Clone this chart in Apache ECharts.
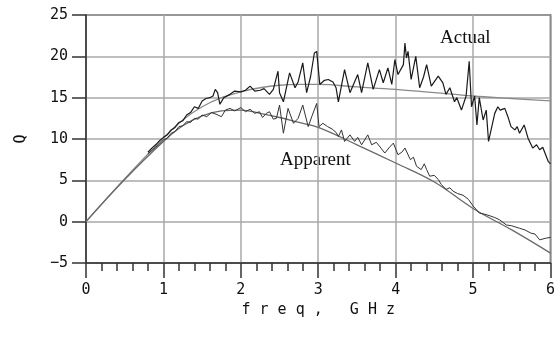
<!DOCTYPE html>
<html>
<head>
<meta charset="utf-8">
<script src="https://cdn.jsdelivr.net/npm/echarts@6/dist/echarts.min.js"></script>
<style>
  html, body { margin: 0; padding: 0; background: #fff; }
  #chart { width: 558px; height: 346px; }
</style>
</head>
<body>
<div id="chart"></div>
<script>
// smooth fitted curves
const smoothFreq = [0, 0.5, 1, 1.25, 1.5, 1.75, 2, 2.25, 2.5, 2.75, 3, 3.5, 4, 4.5, 5, 5.5, 6]
const smoothActualQ = [0, 5.2, 10.1, 12.3, 13.9, 15.0, 15.7, 16.2, 16.5, 16.6, 16.6, 16.3, 16.0, 15.6, 15.2, 14.9, 14.6]
const smoothApparentQ = [0, 5.1, 9.7, 11.6, 12.8, 13.4, 13.5, 13.1, 12.6, 12.0, 11.4, 9.3, 7.1, 4.8, 1.6, -1.0, -3.8]

// measured (noisy) actual Q
const actualFreq = [0.8, 0.85, 0.9, 0.95, 1.0, 1.05, 1.1, 1.15, 1.2, 1.25, 1.3, 1.35, 1.4, 1.45, 1.5, 1.55, 1.6, 1.64, 1.67, 1.7,
  1.73, 1.78, 1.86, 1.92, 2.0, 2.06, 2.12, 2.18, 2.25, 2.3, 2.37, 2.42, 2.48, 2.5, 2.55, 2.63, 2.7, 2.74, 2.8, 2.85,
  2.9, 2.95, 2.98, 3.02, 3.08, 3.13, 3.19, 3.23, 3.26, 3.34, 3.41, 3.51, 3.56, 3.64, 3.71, 3.79, 3.84, 3.9, 3.95, 3.99,
  4.03, 4.1, 4.12, 4.14, 4.16, 4.2, 4.26, 4.31, 4.36, 4.4, 4.46, 4.55, 4.61, 4.65, 4.7, 4.76, 4.79, 4.85, 4.91, 4.95,
  4.98, 5.02, 5.05, 5.08, 5.13, 5.17, 5.2, 5.22, 5.28, 5.32, 5.35, 5.41, 5.45, 5.49, 5.54, 5.57, 5.6, 5.66, 5.71, 5.77,
  5.82, 5.86, 5.9, 5.97, 6.0]
const actualQ = [8.4, 8.9, 9.3, 9.8, 10.2, 10.5, 11.1, 11.4, 12.0, 12.2, 12.9, 13.2, 13.9, 13.7, 14.6, 14.9, 15.0, 15.2, 16.0, 15.6,
  14.2, 15.0, 15.4, 15.8, 15.7, 15.9, 16.4, 15.8, 15.9, 16.1, 15.4, 16.0, 18.2, 15.6, 14.5, 18.0, 16.2, 16.9, 19.2, 15.6,
  17.5, 20.4, 20.6, 16.6, 17.1, 17.2, 16.9, 16.2, 14.5, 18.4, 15.6, 17.8, 15.6, 19.2, 16.0, 18.4, 16.8, 18.6, 16.6, 19.6,
  17.8, 19.0, 21.6, 19.8, 20.6, 17.2, 20.0, 16.2, 17.5, 19.0, 16.4, 17.6, 16.8, 15.4, 16.2, 14.5, 15.0, 13.5, 15.2, 19.4,
  13.9, 15.2, 11.7, 15.0, 12.3, 13.5, 9.7, 9.7, 13.1, 13.9, 13.5, 13.7, 12.7, 11.5, 11.1, 11.5, 10.7, 11.7, 10.1, 8.9,
  9.3, 8.7, 9.0, 7.3, 7.0]

// measured (noisy) apparent Q
const apparentFreq = [0.8, 0.85, 0.9, 0.95, 1.0, 1.05, 1.1, 1.15, 1.2, 1.25, 1.3, 1.35, 1.4, 1.45, 1.5, 1.56, 1.62, 1.68, 1.75, 1.8,
  1.86, 1.92, 2.0, 2.06, 2.12, 2.18, 2.24, 2.28, 2.33, 2.37, 2.42, 2.46, 2.5, 2.55, 2.61, 2.68, 2.74, 2.8, 2.87, 2.92,
  2.98, 3.01, 3.06, 3.12, 3.18, 3.23, 3.26, 3.3, 3.34, 3.41, 3.47, 3.51, 3.56, 3.64, 3.69, 3.75, 3.81, 3.86, 3.92, 3.97,
  4.03, 4.08, 4.12, 4.19, 4.23, 4.27, 4.33, 4.37, 4.4, 4.44, 4.5, 4.55, 4.59, 4.65, 4.7, 4.74, 4.8, 4.87, 4.94, 5.0,
  5.08, 5.15, 5.22, 5.28, 5.34, 5.43, 5.5, 5.6, 5.67, 5.75, 5.8, 5.86, 5.94, 6.0]
const apparentQ = [8.2, 8.6, 9.0, 9.4, 9.9, 10.1, 10.7, 10.9, 11.5, 11.6, 12.1, 12.0, 12.5, 12.4, 12.9, 12.7, 13.2, 13.0, 12.7, 13.5,
  13.7, 13.4, 13.8, 13.3, 13.6, 13.1, 13.3, 12.6, 13.1, 13.3, 12.4, 12.5, 14.1, 10.7, 13.7, 11.9, 12.5, 14.1, 11.5, 12.8,
  14.3, 11.5, 11.9, 11.5, 11.2, 10.8, 10.3, 11.1, 9.7, 10.5, 9.7, 10.2, 9.3, 10.5, 9.3, 9.6, 8.9, 8.3, 9.0, 9.5,
  8.1, 8.4, 8.9, 7.5, 7.8, 6.7, 6.3, 7.0, 6.3, 5.5, 5.6, 5.1, 4.5, 3.9, 4.1, 3.7, 3.4, 3.2, 2.7, 1.9,
  1.05, 0.9, 0.7, 0.5, 0.24, -0.4, -0.5, -0.8, -1.0, -1.4, -1.5, -2.2, -2.0, -1.9]

const pairs = (xs, ys) => xs.map((x, i) => [x, ys[i]])

const monoFont = 'DejaVu Sans Mono'
const gridColor = '#a8a8a8'
const frameColor = '#333'

const chart = echarts.init(document.getElementById('chart'), null, { renderer: 'canvas' })

chart.setOption({
  animation: false,
  backgroundColor: '#fff',
  grid: {
    left: 86,
    top: 15,
    width: 465,
    height: 248,
    show: true,
    borderColor: frameColor,
    borderWidth: 1.5,
  },
  xAxis: {
    type: 'value',
    min: 0,
    max: 6,
    interval: 1,
    name: 'f r e q ,   G H z',
    nameLocation: 'middle',
    nameGap: 29,
    nameTextStyle: { fontFamily: monoFont, fontSize: 15, color: '#111' },
    axisLine: { onZero: false, lineStyle: { color: frameColor, width: 1.5 } },
    axisTick: { show: true, length: 15, lineStyle: { color: frameColor, width: 1.5 } },
    minorTick: { show: true, splitNumber: 5, length: 8, lineStyle: { color: frameColor, width: 1.5 } },
    axisLabel: { margin: 20, fontFamily: monoFont, fontSize: 15, color: '#111' },
    splitLine: { show: true, lineStyle: { color: gridColor, width: 1.5 } },
  },
  yAxis: {
    type: 'value',
    min: -5,
    max: 25,
    interval: 5,
    name: 'Q',
    nameLocation: 'middle',
    nameRotate: 90,
    nameGap: 57,
    nameTextStyle: { fontFamily: monoFont, fontSize: 15, color: '#111' },
    axisLine: { show: true, lineStyle: { color: frameColor, width: 1.5 } },
    axisTick: { show: true, inside: false, length: 14, lineStyle: { color: frameColor, width: 1.5 } },
    axisLabel: {
      margin: 18,
      fontFamily: monoFont,
      fontSize: 15,
      color: '#111',
      formatter: (v) => (v < 0 ? '\u2212' + Math.abs(v) : String(v)),
    },
    splitLine: { show: true, lineStyle: { color: gridColor, width: 1.5 } },
  },
  series: [
    {
      name: 'Actual fit',
      type: 'line',
      smooth: 0.4,
      showSymbol: false,
      data: pairs(smoothFreq, smoothActualQ),
      lineStyle: { color: '#8a8a8a', width: 1.3 },
    },
    {
      name: 'Apparent fit',
      type: 'line',
      smooth: 0.4,
      showSymbol: false,
      data: pairs(smoothFreq, smoothApparentQ),
      lineStyle: { color: '#6a6a6a', width: 1.3 },
    },
    {
      name: 'Apparent',
      type: 'line',
      showSymbol: false,
      data: pairs(apparentFreq, apparentQ),
      lineStyle: { color: '#333', width: 1 },
    },
    {
      name: 'Actual',
      type: 'line',
      showSymbol: false,
      data: pairs(actualFreq, actualQ),
      lineStyle: { color: '#1a1a1a', width: 1.2 },
    },
  ],
  graphic: [
    {
      type: 'text',
      left: 440,
      top: 29,
      style: { text: 'Actual', font: '19px "Liberation Serif"', fill: '#111' },
    },
    {
      type: 'text',
      left: 280,
      top: 151,
      style: { text: 'Apparent', font: '19px "Liberation Serif"', fill: '#111' },
    },
  ],
})
</script>
</body>
</html>
